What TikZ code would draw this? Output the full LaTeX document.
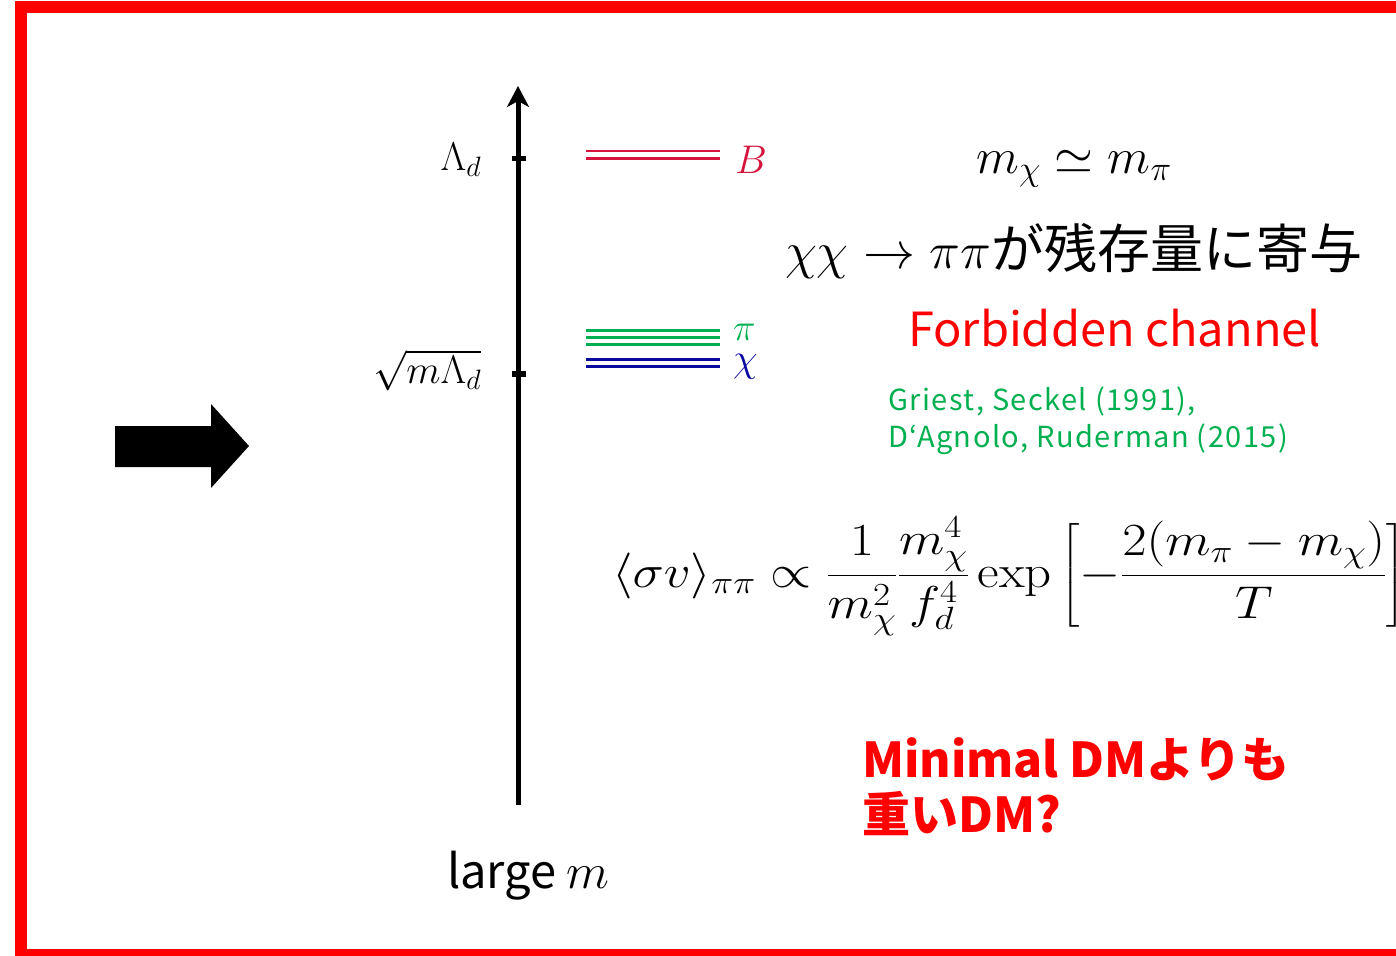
\RequirePackage{fix-cm}
\documentclass[tikz,border=0pt]{standalone}
\usepackage{amsmath}
\usepackage{graphicx}
\usepackage{fontspec}
\newfontfamily\jp{Noto Sans CJK JP}
\newfontfamily\jpcite{Noto Sans CJK JP}[LetterSpace=5]
\usetikzlibrary{arrows.meta}
\definecolor{borderred}{HTML}{FF0000}
\definecolor{bred}{HTML}{D4143C}
\definecolor{pgreen}{HTML}{00B050}
\definecolor{cblue}{HTML}{0A0AA0}
\tikzset{
  txt/.style={inner sep=0pt, outer sep=0pt},
  level/.style={line width=2.6pt},
  tick/.style={line width=5.5pt},
}
\begin{document}
\begin{tikzpicture}[x=1pt,y=-1pt]
\useasboundingbox (0,0) rectangle (1396,955);
\clip (0,0) rectangle (1396,955);
% frame
\draw[borderred, line width=12pt] (21,7) rectangle (1430,955);
% big arrow
\fill[black] (115,426) -- (211,426) -- (211,404) -- (249,446) -- (211,488) -- (211,467) -- (115,467) -- cycle;
% axis
\coordinate (axbot) at (518,805);
\coordinate (axtop) at (518,86);
\draw[line width=5pt, -{Stealth[length=21pt,width=22pt,inset=6pt]}] (axbot) -- (axtop);
\coordinate (t1a) at (511.5,158.5); \coordinate (t1b) at (525.5,158.5);
\coordinate (t2a) at (511.5,374); \coordinate (t2b) at (525.5,374);
\draw[tick] (t1a) -- (t1b);
\draw[tick] (t2a) -- (t2b);
\node[txt, anchor=base east] (lam) at (481,170) {\fontsize{40}{42}\selectfont $\Lambda_d$};
\node[txt, anchor=base east] (sq) at (481,383) {\fontsize{40}{42}\selectfont $\sqrt{m\Lambda_d}$};
% levels
\draw[level, bred] (586,151) -- (720,151);
\draw[level, bred] (586,158.3) -- (720,158.3);
\draw[level, pgreen] (586,330.5) -- (720,330.5);
\draw[level, pgreen] (586,337.5) -- (720,337.5);
\draw[level, pgreen] (586,344.5) -- (720,344.5);
\draw[level, cblue] (586,359.5) -- (720,359.5);
\draw[level, cblue] (586,366.5) -- (720,366.5);
\node[txt, anchor=base west, text=bred] (B) at (735,173) {\fontsize{40}{42}\selectfont $B$};
\node[txt, anchor=base west, text=pgreen] (pi) at (733,340) {\fontsize{38}{40}\selectfont $\pi$};
\node[txt, anchor=base west, text=cblue] (chi) at (733,371) {\fontsize{40}{42}\selectfont $\chi$};
% right texts
\node[txt, anchor=base] (eq) at (1074,173) {\fontsize{50}{52}\selectfont $m_\chi \simeq m_\pi$};
\node[txt, anchor=base west] (proc) at (785,268) {\fontsize{52}{54}\selectfont $\chi\chi\to\pi\pi$\jp\fontsize{53}{55}\selectfont が残存量に寄与};
\node[txt, anchor=base west, text=borderred] (forb) at (908,346) {\jp\fontsize{47}{49}\selectfont Forbidden channel};
\node[txt, anchor=base west, text=pgreen, align=left] (cite1) at (888,410) {\jpcite\fontsize{29}{30}\selectfont Griest, Seckel (1991),};
\node[txt, anchor=base west, text=pgreen, align=left] (cite2) at (888,447) {\jpcite\fontsize{29}{30}\selectfont D‘Agnolo, Ruderman (2015)};
\node[txt, anchor=base west] (formula) at (612,587) {\scalebox{1.15}[1]{\fontsize{46}{50}\selectfont $\displaystyle \langle\sigma v\rangle_{\pi\pi} \propto \frac{1}{m_\chi^2}\frac{m_\chi^4}{f_d^4}\exp\left[-\frac{2(m_\pi-m_\chi)}{T}\right]$}};
\node[txt, anchor=base west, text=borderred] (min1) at (862,777) {\jp\bfseries\fontsize{48}{50}\selectfont Minimal DMよりも};
\node[txt, anchor=base west, text=borderred] (min2) at (862,832) {\jp\bfseries\fontsize{48}{50}\selectfont 重いDM?};
\node[txt, anchor=base west] (large) at (447,888) {\jp\fontsize{47}{49}\selectfont large \normalfont\fontsize{50}{52}\selectfont$m$};
\end{tikzpicture}
\end{document}
